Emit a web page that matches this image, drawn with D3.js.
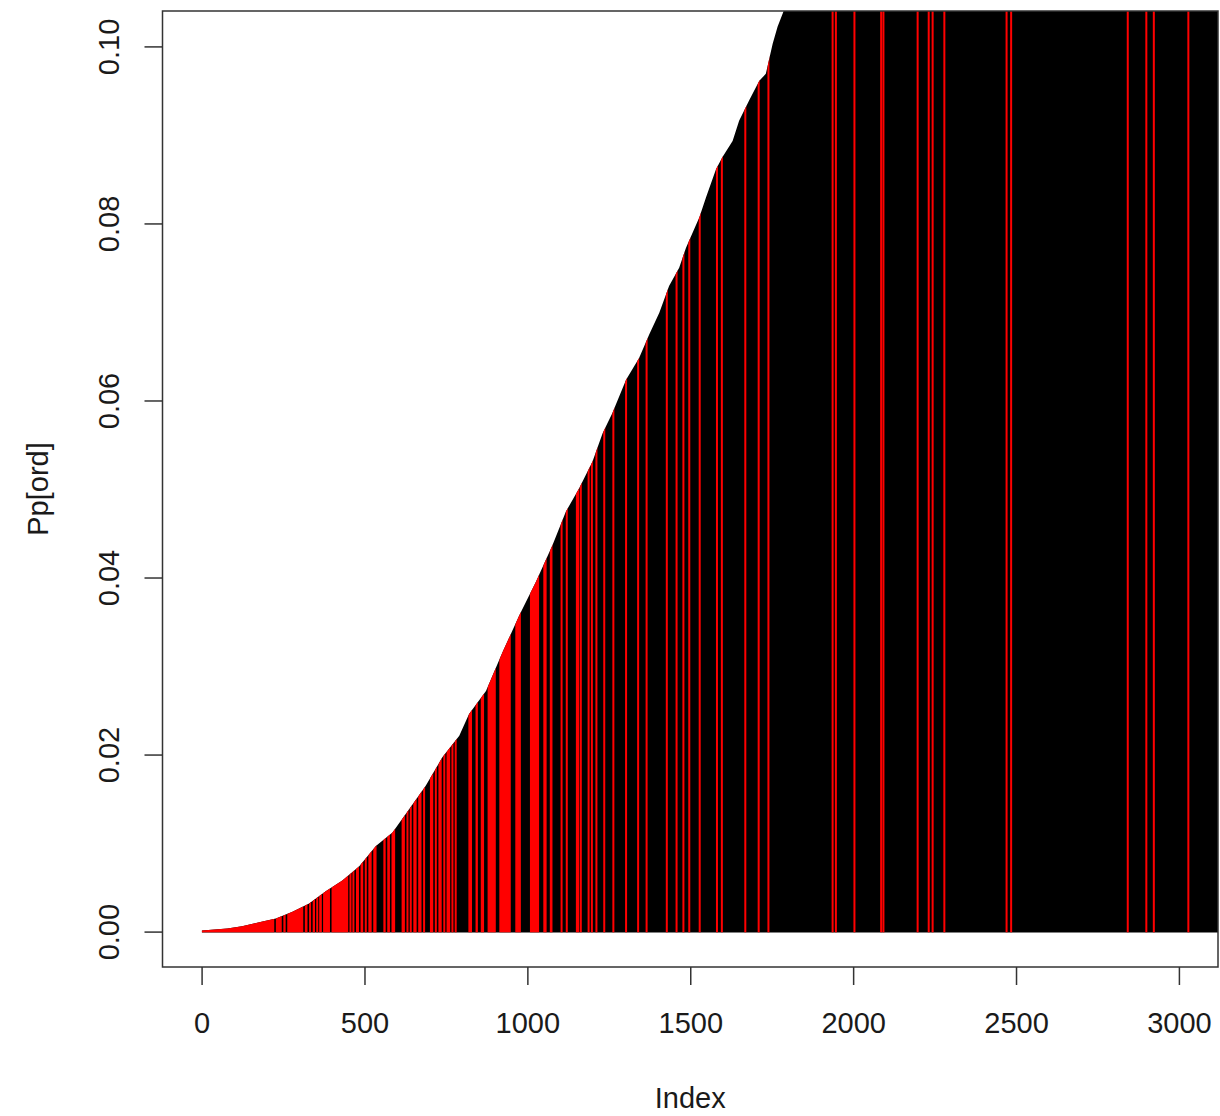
<!DOCTYPE html>
<html><head><meta charset="utf-8">
<script src="https://cdn.jsdelivr.net/npm/d3@7"></script>
<style>
body{margin:0;background:#fff}
svg{display:block}
text{font-family:"Liberation Sans",Arial,Helvetica,sans-serif}
</style>
</head><body>
<svg id="chart" width="1220" height="1116"></svg>
<script>
// ---- data (sorted values Pp[ord]) ----
const curveIndex = [1, 79, 124, 177, 228, 279, 330, 381, 432, 484, 535, 586, 637, 688, 739, 791, 821, 873, 924, 975, 1026, 1077, 1118, 1159, 1200, 1231, 1261, 1303, 1343, 1374, 1405, 1435, 1466, 1487, 1528, 1548, 1579, 1599, 1630, 1650, 1681, 1712, 1732, 1753, 1768, 1789, 1800, 3125];
const curveValue = [0, 0.00023, 0.00049, 0.00094, 0.00136, 0.00212, 0.00306, 0.00445, 0.00566, 0.00728, 0.00955, 0.01107, 0.01371, 0.01635, 0.01957, 0.02201, 0.02447, 0.02708, 0.03146, 0.03561, 0.03939, 0.04354, 0.04732, 0.04996, 0.05299, 0.05619, 0.05846, 0.06223, 0.06469, 0.06733, 0.06979, 0.07281, 0.07488, 0.07715, 0.0806, 0.0828, 0.0860, 0.0874, 0.0892, 0.0915, 0.0938, 0.0960, 0.0968, 0.1002, 0.1021, 0.1041, 0.106, 0.95];
// indices of red bars, as runs [start, end]
const redStart = [1, 231, 254, 266, 320, 333, 344, 355, 364, 376, 402, 457, 466, 477, 491, 504, 515, 530, 561, 573, 586, 617, 632, 642, 653, 668, 683, 704, 719, 730, 745, 755, 770, 780, 822, 844, 860, 881, 917, 966, 1011, 1052, 1072, 1105, 1121, 1152, 1164, 1188, 1198, 1212, 1236, 1264, 1303, 1340, 1366, 1428, 1458, 1479, 1497, 1529, 1582, 1597, 1669, 1710, 1740, 1937, 1947, 2004, 2086, 2093, 2198, 2232, 2244, 2280, 2471, 2485, 2843, 2900, 2923, 3029];
const redEnd   = [220, 243, 255, 309, 322, 333, 345, 355, 366, 391, 447, 457, 466, 480, 493, 504, 519, 534, 562, 575, 591, 621, 632, 642, 657, 672, 683, 708, 719, 734, 745, 760, 770, 780, 827, 845, 864, 900, 946, 977, 1033, 1056, 1074, 1105, 1121, 1156, 1164, 1188, 1198, 1212, 1236, 1264, 1303, 1340, 1366, 1428, 1458, 1479, 1497, 1529, 1582, 1597, 1669, 1710, 1740, 1937, 1947, 2004, 2086, 2093, 2198, 2232, 2244, 2280, 2471, 2485, 2843, 2900, 2923, 3029];
const xTicks = [0, 500, 1000, 1500, 2000, 2500, 3000];
const yTicks = [0, 0.02, 0.04, 0.06, 0.08, 0.10];
const yTickLabels = ["0.00", "0.02", "0.04", "0.06", "0.08", "0.10"];
const xTitle = "Index";
const yTitle = "Pp[ord]";
const xLim = [0, 3000];
const yLim = [0, 0.10];

// ---- layout ----
const L = 162.5, R = 1218, T = 11, B = 967;
const ext = (lim) => { const d = (lim[1] - lim[0]) * 0.04; return [lim[0] - d, lim[1] + d]; };
const x = d3.scaleLinear().domain(ext(xLim)).range([L, R]);
const y = d3.scaleLinear().domain(ext(yLim)).range([B, T]);

const svg = d3.select("#chart");
const defs = svg.append("defs");
defs.append("clipPath").attr("id", "plotClip")
  .append("rect").attr("x", L).attr("y", T).attr("width", R - L).attr("height", B - T);

const pts = curveIndex.map((d, i) => [d, curveValue[i]]);
const area = d3.area()
  .x(d => x(d[0]))
  .y0(y(0) + 1)
  .y1(d => y(d[1]) - 1);
defs.append("clipPath").attr("id", "areaClip")
  .append("path").attr("d", area(pts));

const plot = svg.append("g").attr("clip-path", "url(#plotClip)");
plot.append("path").attr("d", area(pts)).attr("fill", "#000");

const red = plot.append("g").attr("clip-path", "url(#areaClip)");
red.selectAll("rect").data(redStart.map((s, i) => [s, redEnd[i]])).join("rect")
  .attr("x", d => x(d[0]) - 1)
  .attr("width", d => x(d[1]) - x(d[0]) + 2)
  .attr("y", T)
  .attr("height", y(0) + 1 - T)
  .attr("fill", "#ff0000");

// ---- box ----
svg.append("rect").attr("x", L).attr("y", T).attr("width", R - L).attr("height", B - T)
  .attr("fill", "none").attr("stroke", "#333").attr("stroke-width", 1.5);

const fs = 29, tc = "#1a1a1a";

// ---- x axis ----
const gx = svg.append("g").attr("transform", `translate(0,${B})`)
  .call(d3.axisBottom(x).tickValues(xTicks).tickSize(18).tickFormat(d3.format("d")));
gx.select(".domain").remove();
gx.selectAll(".tick line").attr("stroke", "#333").attr("stroke-width", 1.5);
gx.selectAll(".tick text").attr("y", 66).attr("dy", null)
  .attr("font-size", fs).attr("fill", tc).attr("font-family", "Liberation Sans, Arial, sans-serif");

// ---- y axis ----
const gy = svg.append("g").attr("transform", `translate(${L},0)`)
  .call(d3.axisLeft(y).tickValues(yTicks).tickSize(18).tickFormat((d, i) => yTickLabels[i]));
gy.select(".domain").remove();
gy.selectAll(".tick line").attr("stroke", "#333").attr("stroke-width", 1.5);
gy.selectAll(".tick text").attr("x", null).attr("dy", null)
  .attr("text-anchor", "middle")
  .attr("transform", "translate(-44,0) rotate(-90)")
  .attr("font-size", fs).attr("fill", tc).attr("font-family", "Liberation Sans, Arial, sans-serif");

// ---- titles ----
svg.append("text").attr("x", (L + R) / 2).attr("y", 1108).attr("text-anchor", "middle")
  .attr("font-size", fs).attr("fill", tc).text(xTitle);
svg.append("text").attr("transform", `translate(48,${(T + B) / 2}) rotate(-90)`)
  .attr("text-anchor", "middle").attr("font-size", fs).attr("fill", tc).text(yTitle);
</script>
</body></html>
